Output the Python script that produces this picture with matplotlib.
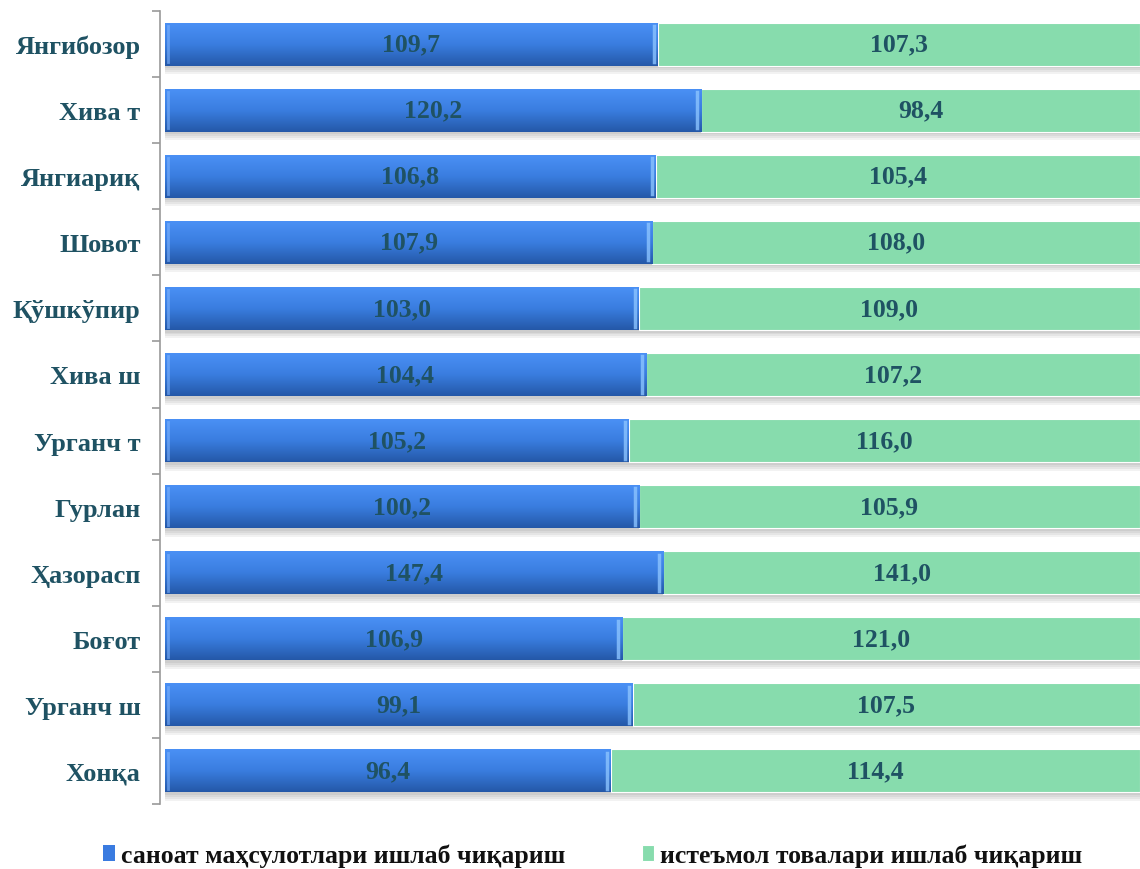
import matplotlib
matplotlib.use("Agg")
import matplotlib.pyplot as plt
import numpy as np
from matplotlib.colors import LinearSegmentedColormap

districts = ["Янгибозор", "Хива т", "Янгиариқ", "Шовот", "Қўшкўпир", "Хива ш",
             "Урганч т", "Гурлан", "Ҳазорасп", "Боғот", "Урганч ш", "Хонқа"]
industry = [109.7, 120.2, 106.8, 107.9, 103.0, 104.4, 105.2, 100.2, 147.4, 106.9, 99.1, 96.4]
consumer = [107.3, 98.4, 105.4, 108.0, 109.0, 107.2, 116.0, 105.9, 141.0, 121.0, 107.5, 114.4]
series_names = ["саноат маҳсулотлари ишлаб чиқариш", "истеъмол товалари ишлаб чиқариш"]

plt.rcParams['font.family'] = ['Liberation Serif', 'DejaVu Serif']
text_color = "#1f5263"

ind = np.array(industry)
con = np.array(consumer)
share_ind = ind / (ind + con)
share_con = con / (ind + con)
y = np.arange(len(districts))

fig = plt.figure(figsize=(11.4, 8.7), dpi=100)
ax = fig.add_axes([0.1404, 0.0747, 0.8596, 0.9115])

h = 0.65
# soft shadow under the bars
for k in range(4):
    ax.barh(y + 0.04 + k * 0.03, np.ones(len(y)), height=h, color="#000000",
            alpha=0.05, zorder=1)

blue = ax.barh(y, share_ind, height=h, color="#3a7be0", zorder=2,
               label=series_names[0])
green = ax.barh(y, share_con, left=share_ind, height=h, color="#87dcad",
                edgecolor="white", linewidth=0.8, zorder=2, label=series_names[1])

cmap = LinearSegmentedColormap.from_list("bl", ["#4a90f5", "#3a7ddf", "#2458a8"])
grad = np.linspace(0, 1, 100).reshape(-1, 1)
for p in blue.patches:
    x0, y0 = p.get_x(), p.get_y()
    w, hh = p.get_width(), p.get_height()
    im = ax.imshow(grad, cmap=cmap, aspect="auto", zorder=3,
                   extent=[x0, x0 + w, y0 + hh, y0], origin="upper")
    im.set_clip_path(p)
    # bevel highlight at the segment edges
    ax.plot([x0 + 0.003, x0 + 0.003], [y0 + 0.05, y0 + hh - 0.05], color="#7fb4ff",
            lw=2, alpha=0.6, zorder=4)
    ax.plot([x0 + w - 0.004, x0 + w - 0.004], [y0 + 0.05, y0 + hh - 0.05],
            color="#8cc4ff", lw=2.5, alpha=0.8, zorder=4)

for i in range(len(y)):
    ax.text(share_ind[i] / 2, y[i], f"{industry[i]:.1f}".replace(".", ","),
            ha="center", va="center", fontsize=18.5, fontweight="bold",
            color=text_color, zorder=5)
    ax.text(share_ind[i] + share_con[i] / 2, y[i], f"{consumer[i]:.1f}".replace(".", ","),
            ha="center", va="center", fontsize=18.5, fontweight="bold",
            color=text_color, zorder=5)

ax.set_xlim(-0.005, 1.0)
ax.set_ylim(len(y) - 0.5, -0.5)
ax.set_yticks(y)
ax.set_yticklabels(districts, fontsize=19, fontweight="bold", color=text_color)
ax.tick_params(axis="y", which="major", length=0, pad=14)
ax.set_yticks(np.arange(len(y) + 1) - 0.5, minor=True)
ax.tick_params(axis="y", which="minor", length=6, color="#999999", width=1.2)
ax.set_xticks([])
for s in ["top", "right", "bottom"]:
    ax.spines[s].set_visible(False)
ax.spines["left"].set_color("#999999")
ax.spines["left"].set_linewidth(1.2)

leg = fig.legend(handles=[blue, green], labels=series_names, loc="lower center",
                 bbox_to_anchor=(0.52, -0.024), ncol=2, frameon=False,
                 prop={"size": 18.5, "weight": "bold"}, handlelength=0.45,
                 handleheight=0.6, handletextpad=0.25, columnspacing=3.0)
for t in leg.get_texts():
    t.set_color("#111111")

fig.savefig("out.png", dpi=100)
